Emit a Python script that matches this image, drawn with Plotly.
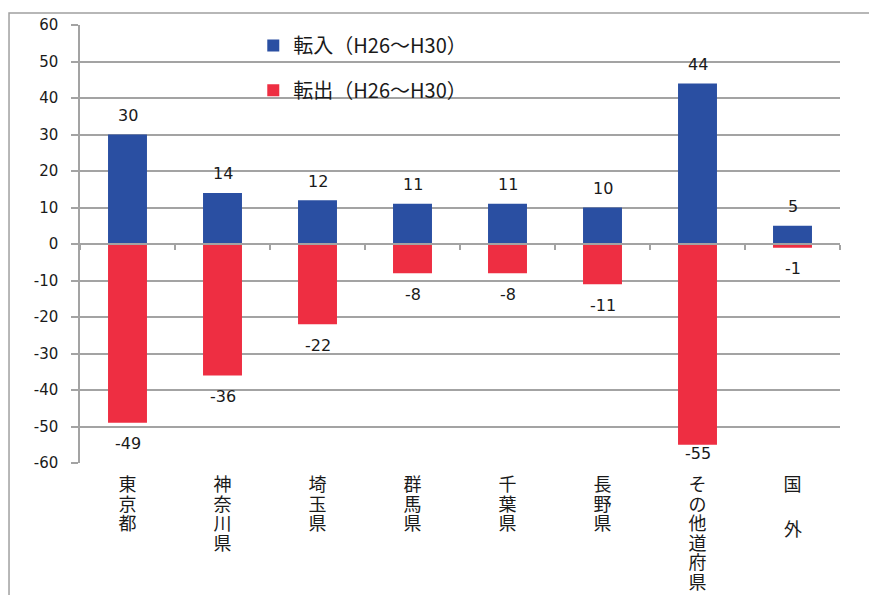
import plotly.graph_objects as go

categories = ["東京都", "神奈川県", "埼玉県", "群馬県", "千葉県", "長野県", "その他道府県", "国外"]
tick_chars = [["東", "京", "都"], ["神", "奈", "川", "県"], ["埼", "玉", "県"], ["群", "馬", "県"],
              ["千", "葉", "県"], ["長", "野", "県"], ["そ", "の", "他", "道", "府", "県"], ["国"]]
tennyu = [30, 14, 12, 11, 11, 10, 44, 5]
tenshutsu = [-49, -36, -22, -8, -8, -11, -55, -1]
series_names = ["転入（H26〜H30）", "転出（H26〜H30）"]
y_ticks = [-60, -50, -40, -30, -20, -10, 0, 10, 20, 30, 40, 50, 60]
y_tick_text = [str(v) for v in y_ticks]

BLUE = "#2a4fa2"
RED = "#ee2e42"
GRID = "#a3a3a3"
NUM_FONT = "DejaVu Sans, sans-serif"
JP_FONT = "Noto Sans CJK JP, sans-serif"
TXT = "#1a1a1a"

tick_labels = ["<br>".join('<span style="font-size:18px">%s</span>' % ch for ch in chars)
               for chars in tick_chars]

fig = go.Figure()
fig.add_trace(go.Bar(x=categories, y=tennyu, name=series_names[0], marker_color=BLUE,
                     marker_line_width=0, width=0.41, legend="legend"))
fig.add_trace(go.Bar(x=categories, y=tenshutsu, name=series_names[1], marker_color=RED,
                     marker_line_width=0, width=0.41, legend="legend2"))
# helper axis along y=0 with boundary ticks
fig.add_trace(go.Scatter(x=categories, y=[0] * len(categories), xaxis="x2", mode="markers",
                         marker_opacity=0, showlegend=False, hoverinfo="skip"))

annotations = []
for c, v in zip(categories, tennyu):
    annotations.append(dict(x=c, y=v, text=str(v), showarrow=False, yanchor="middle",
                            yshift=19, font=dict(size=16, color=TXT, family=NUM_FONT)))
for c, v in zip(categories, tenshutsu):
    shift = -21 if v > -52 else -9
    annotations.append(dict(x=c, y=v, text=str(v), showarrow=False, yanchor="middle",
                            yshift=shift, font=dict(size=16, color=TXT, family=NUM_FONT)))
# second character of the 国外 label, spaced further down as in the original
annotations.append(dict(x=categories[-1], y=0, yref="paper", text="外", showarrow=False,
                        yanchor="top", yshift=-50, font=dict(size=18, color=TXT, family=JP_FONT)))

fig.update_layout(
    width=869, height=587,
    margin=dict(l=72, r=37, t=17, b=132, autoexpand=False),
    paper_bgcolor="white", plot_bgcolor="white",
    barmode="overlay",
    font=dict(family=JP_FONT, color=TXT),
    annotations=annotations,
    showlegend=True,
    legend=dict(x=0.228, y=0.953, xanchor="left", yanchor="middle",
                font=dict(size=20, color=TXT, family=JP_FONT), bgcolor="rgba(0,0,0,0)"),
    legend2=dict(x=0.228, y=0.851, xanchor="left", yanchor="middle",
                 font=dict(size=20, color=TXT, family=JP_FONT), bgcolor="rgba(0,0,0,0)"),
    xaxis=dict(type="category", categoryorder="array", categoryarray=categories,
               tickmode="array", tickvals=categories, ticktext=tick_labels,
               ticks="", showline=False, showgrid=False, zeroline=False, automargin=False,
               tickfont=dict(size=15, family=JP_FONT, color=TXT),
               ticklabelstandoff=12, range=[-0.5, 7.5]),
    xaxis2=dict(type="category", categoryorder="array", categoryarray=categories,
                overlaying="x", anchor="free", position=0.5, side="bottom",
                showticklabels=False, ticks="outside", ticklen=5, tickcolor=GRID,
                tickwidth=1.5, tickson="boundaries", showline=True, linecolor=GRID,
                linewidth=1.5, showgrid=False, zeroline=False, range=[-0.5, 7.5]),
    yaxis=dict(range=[-60, 60], tickmode="array", tickvals=y_ticks, ticktext=y_tick_text,
               showgrid=True, gridcolor=GRID, automargin=False,
               gridwidth=1.5, zeroline=False, showline=True, linecolor=GRID, linewidth=1.5,
               ticks="outside", ticklen=7, tickcolor=GRID, tickwidth=1.5,
               tickfont=dict(size=15, color=TXT, family=NUM_FONT), ticklabelstandoff=10),
    shapes=[dict(type="rect", xref="paper", yref="paper", x0=-0.0934, x1=1.08,
                 y0=-0.35, y1=1.0274, line=dict(color="#a0a0a0", width=1.5),
                 fillcolor="rgba(0,0,0,0)", layer="below")],
)

fig.write_html("out.html")
